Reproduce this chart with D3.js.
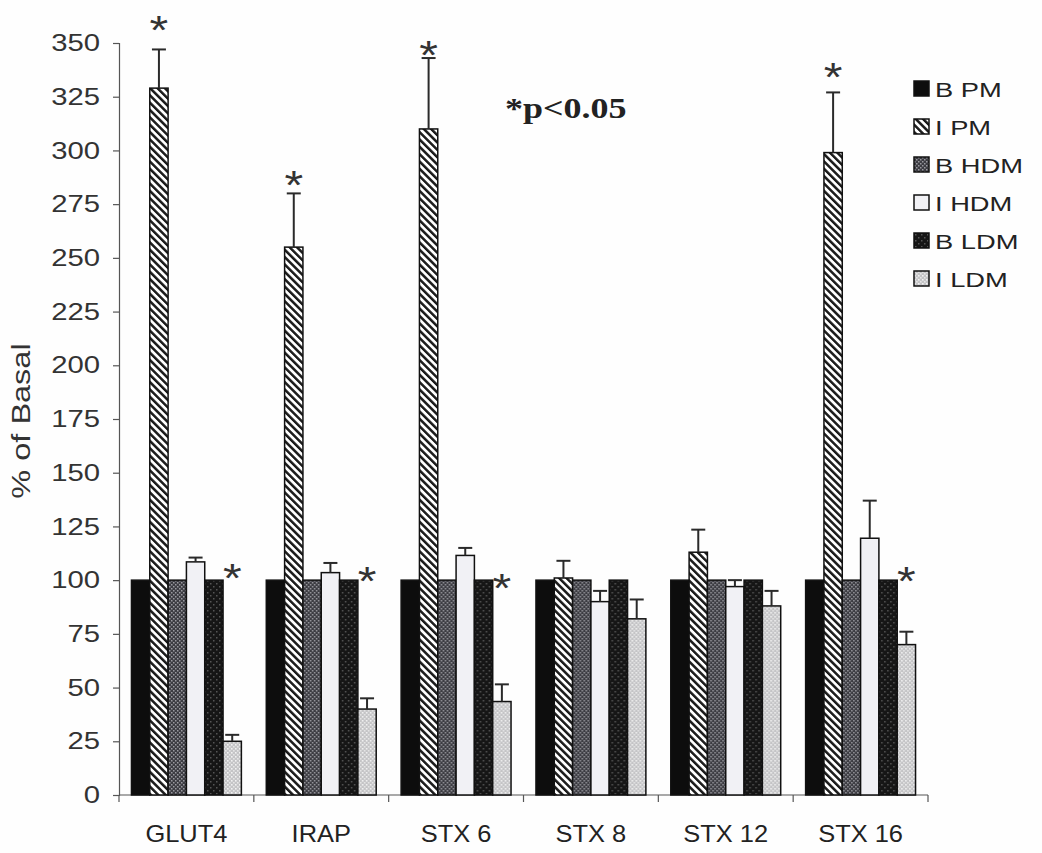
<!DOCTYPE html>
<html>
<head>
<meta charset="utf-8">
<script src="https://cdn.jsdelivr.net/npm/d3@7"></script>
<style>
  html, body { margin: 0; padding: 0; background: #ffffff; }
  svg { display: block; }
</style>
</head>
<body>
<script>
// ---------- DATA ----------
const categories = ["GLUT4", "IRAP", "STX 6", "STX 8", "STX 12", "STX 16"];
const seriesNames = ["B PM", "I PM", "B HDM", "I HDM", "B LDM", "I LDM"];

const valuesBPM  = [100, 100, 100, 100, 100, 100];
const valuesIPM  = [329, 255, 310, 101, 113, 299];
const valuesBHDM = [100, 100, 100, 100, 100, 100];
const valuesIHDM = [108.5, 103.5, 111.5, 90, 97, 119.5];
const valuesBLDM = [100, 100, 100, 100, 100, 100];
const valuesILDM = [25, 40, 43.5, 82, 88, 70];

const errorsBPM  = [0, 0, 0, 0, 0, 0];
const errorsIPM  = [18, 25, 33, 8, 10.5, 28];
const errorsBHDM = [0, 0, 0, 0, 0, 0];
const errorsIHDM = [2, 4.5, 3.5, 5, 3, 17.5];
const errorsBLDM = [0, 0, 0, 0, 0, 0];
const errorsILDM = [3, 5, 8, 9, 7, 6];

const yTicks = [0, 25, 50, 75, 100, 125, 150, 175, 200, 225, 250, 275, 300, 325, 350];

// significance asterisks: category, series, value (in % of Basal) at which the star sits
const sigCategories = ["GLUT4", "IRAP", "STX 6", "STX 16", "GLUT4", "IRAP", "STX 6", "STX 16"];
const sigSeries     = ["I PM", "I PM", "I PM", "I PM", "I LDM", "I LDM", "I LDM", "I LDM"];
const sigValues     = [360.7, 288.6, 349, 338.8, 105.5, 104.2, 101, 104.4];

const yLabel = "% of Basal";
const noteText = "*p<0.05";

// ---------- BUILD ----------
const allValues = [valuesBPM, valuesIPM, valuesBHDM, valuesIHDM, valuesBLDM, valuesILDM];
const allErrors = [errorsBPM, errorsIPM, errorsBHDM, errorsIHDM, errorsBLDM, errorsILDM];
const table = [];
categories.forEach((c, ci) => {
  seriesNames.forEach((s, si) => {
    table.push({ category: c, series: s, value: allValues[si][ci], err: allErrors[si][ci] });
  });
});

const W = 1042, H = 853;
const svg = d3.select("body").append("svg").attr("width", W).attr("height", H)
  .style("font-family", "'Liberation Sans', Arial, sans-serif");

svg.append("rect").attr("width", W).attr("height", H).attr("fill", "#fefefe");

const plotLeft = 119, plotRight = 928, plotTop = 43, plotBottom = 795;

const x0 = d3.scaleBand().domain(categories).range([plotLeft, plotRight]).paddingInner(0).paddingOuter(0);
const x1 = d3.scaleBand().domain(seriesNames).range([0, x0.bandwidth()]).paddingInner(0).paddingOuter(0.68);
const y = d3.scaleLinear().domain([0, 350]).range([plotBottom, plotTop]);

// ---------- PATTERNS ----------
const defs = svg.append("defs");

const pStripe = defs.append("pattern").attr("id", "pat-IPM").attr("patternUnits", "userSpaceOnUse")
  .attr("width", 5.2).attr("height", 5.2).attr("patternTransform", "rotate(-45)");
pStripe.append("rect").attr("width", 5.2).attr("height", 5.2).attr("fill", "#ffffff");
pStripe.append("rect").attr("width", 2.5).attr("height", 5.2).attr("fill", "#1a1a1a");

const pBHDM = defs.append("pattern").attr("id", "pat-BHDM").attr("patternUnits", "userSpaceOnUse")
  .attr("width", 4).attr("height", 4);
pBHDM.append("rect").attr("width", 4).attr("height", 4).attr("fill", "#3c3c42");
pBHDM.append("rect").attr("x", 0).attr("y", 0).attr("width", 1.5).attr("height", 1.5).attr("fill", "#9a9aa0");
pBHDM.append("rect").attr("x", 2).attr("y", 2).attr("width", 1.5).attr("height", 1.5).attr("fill", "#9a9aa0");

const pBLDM = defs.append("pattern").attr("id", "pat-BLDM").attr("patternUnits", "userSpaceOnUse")
  .attr("width", 6).attr("height", 6);
pBLDM.append("rect").attr("width", 6).attr("height", 6).attr("fill", "#161616");
pBLDM.append("rect").attr("x", 1).attr("y", 1).attr("width", 1.5).attr("height", 1.5).attr("fill", "#555");
pBLDM.append("rect").attr("x", 4).attr("y", 4).attr("width", 1.5).attr("height", 1.5).attr("fill", "#555");

const pILDM = defs.append("pattern").attr("id", "pat-ILDM").attr("patternUnits", "userSpaceOnUse")
  .attr("width", 4).attr("height", 4);
pILDM.append("rect").attr("width", 4).attr("height", 4).attr("fill", "#c4c4c6");
pILDM.append("rect").attr("x", 0).attr("y", 0).attr("width", 1.6).attr("height", 1.6).attr("fill", "#f2f2f2");
pILDM.append("rect").attr("x", 2).attr("y", 2).attr("width", 1.6).attr("height", 1.6).attr("fill", "#e6e6e6");

const fills = {
  "B PM": "#0d0d0d",
  "I PM": "url(#pat-IPM)",
  "B HDM": "url(#pat-BHDM)",
  "I HDM": "#f1f1f5",
  "B LDM": "url(#pat-BLDM)",
  "I LDM": "url(#pat-ILDM)"
};

// ---------- AXES ----------
const yAxis = d3.axisLeft(y).tickValues(yTicks).tickSize(6).tickPadding(12).tickFormat(d3.format("d"));
const gy = svg.append("g").attr("transform", `translate(${plotLeft},0)`).call(yAxis);
gy.select(".domain").attr("stroke", "#555").attr("stroke-width", 1.2);
gy.selectAll(".tick line").attr("stroke", "#555").attr("stroke-width", 1.2);
gy.selectAll(".tick text").attr("fill", "#333").style("font-size", "24px")
  .attr("x", 0).attr("transform", "translate(-19,0) scale(1.22,1)");

// x axis
const gx = svg.append("g").attr("transform", `translate(0,${plotBottom})`);
gx.append("line").attr("x1", plotLeft).attr("x2", plotRight).attr("y1", 0).attr("y2", 0)
  .attr("stroke", "#555").attr("stroke-width", 1.2);
const boundaries = categories.map(c => x0(c)).concat([x0(categories[categories.length - 1]) + x0.bandwidth()]);
gx.selectAll("line.bt").data(boundaries).join("line").attr("class", "bt")
  .attr("x1", d => d).attr("x2", d => d).attr("y1", 0).attr("y2", 7)
  .attr("stroke", "#555").attr("stroke-width", 1.2);
gx.selectAll("text.cat").data(categories).join("text").attr("class", "cat")
  .attr("transform", d => `translate(${x0(d) + x0.bandwidth() / 2},47) scale(1.06,1)`)
  .attr("text-anchor", "middle").attr("fill", "#222").style("font-size", "24px")
  .text(d => d);

// y label
svg.append("text").attr("transform", `translate(30,${(plotTop + plotBottom) / 2 + 2}) rotate(-90) scale(1.3,1)`)
  .attr("text-anchor", "middle").attr("fill", "#333").style("font-size", "25px").text(yLabel);

// ---------- BARS ----------
const groups = svg.append("g").selectAll("g").data(categories).join("g")
  .attr("transform", d => `translate(${x0(d)},0)`);

groups.selectAll("rect").data(c => table.filter(t => t.category === c)).join("rect")
  .attr("x", d => x1(d.series))
  .attr("y", d => y(d.value))
  .attr("width", x1.bandwidth())
  .attr("height", d => y(0) - y(d.value))
  .attr("fill", d => fills[d.series])
  .attr("stroke", "#111").attr("stroke-width", 1.5);

// error bars
const errData = table.filter(t => t.err > 0);
const eg = svg.append("g");
eg.selectAll("line.ev").data(errData).join("line").attr("class", "ev")
  .attr("x1", d => x0(d.category) + x1(d.series) + x1.bandwidth() / 2)
  .attr("x2", d => x0(d.category) + x1(d.series) + x1.bandwidth() / 2)
  .attr("y1", d => y(d.value)).attr("y2", d => y(d.value + d.err))
  .attr("stroke", "#2a2a2a").attr("stroke-width", 2);
eg.selectAll("line.ec").data(errData).join("line").attr("class", "ec")
  .attr("x1", d => x0(d.category) + x1(d.series) + x1.bandwidth() / 2 - 7)
  .attr("x2", d => x0(d.category) + x1(d.series) + x1.bandwidth() / 2 + 7)
  .attr("y1", d => y(d.value + d.err)).attr("y2", d => y(d.value + d.err))
  .attr("stroke", "#2a2a2a").attr("stroke-width", 2);

// significance asterisks
const sigData = sigValues.map((v, i) => ({ category: sigCategories[i], series: sigSeries[i], value: v }));
svg.append("g").selectAll("text").data(sigData).join("text")
  .attr("transform", d => `translate(${x0(d.category) + x1(d.series) + x1.bandwidth() / 2},${y(d.value) + 24}) scale(1.2,1)`)
  .attr("text-anchor", "middle").attr("fill", "#333")
  .style("font-size", "40px").text("*");

// note
svg.append("text").attr("transform", "translate(505,118) scale(1.2,1)")
  .attr("fill", "#222").style("font-family", "'Liberation Serif', 'Times New Roman', serif")
  .style("font-weight", "bold").style("font-size", "30px").text(noteText);

// ---------- LEGEND ----------
const legend = svg.append("g").attr("transform", "translate(914,81)");
const li = legend.selectAll("g").data(seriesNames).join("g")
  .attr("transform", (d, i) => `translate(0,${i * 38})`);
li.append("rect").attr("width", 15).attr("height", 15).attr("y", 0)
  .attr("fill", d => fills[d]).attr("stroke", "#111").attr("stroke-width", 1.5);
li.append("text").attr("transform", "translate(21,15.5) scale(1.3,1)").attr("fill", "#222")
  .style("font-size", "21px").text(d => d);
</script>
</body>
</html>
